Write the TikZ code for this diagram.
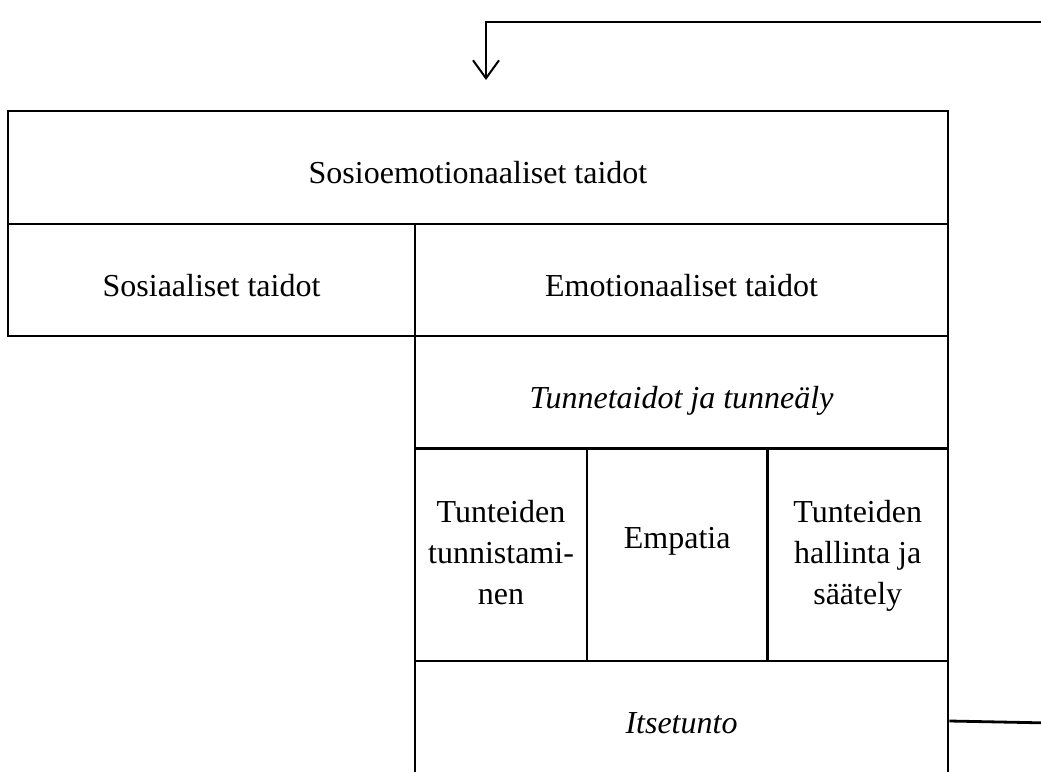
\documentclass[tikz,border=0pt]{standalone}
\usepackage{fontspec}
\setmainfont{Liberation Serif}
\usetikzlibrary{arrows.meta}
\begin{document}
\begin{tikzpicture}[x=1pt, y=-1pt, line width=2.8pt, cell node/.style={draw,rectangle,inner sep=0pt}, text node/.style={anchor=base,inner sep=0pt,align=center,font=\fontsize{32}{41}\selectfont}]
\useasboundingbox (0,0) rectangle (1041,771);
\clip (0,0) rectangle (1041,771);
\begin{scope}[every node/.style={cell node}]
\node[minimum width=940pt,minimum height=113pt] (v1) at (478,167.5) {};
\node[minimum width=407pt,minimum height=112pt] (v2) at (211.5,280) {};
\node[minimum width=533pt,minimum height=112pt] (v3) at (681.5,280) {};
\node[minimum width=533pt,minimum height=112.5pt] (v4) at (681.5,392.25) {};
\node[minimum width=172pt,minimum height=212.5pt] (v5) at (501,554.75) {};
\node[minimum width=180.5pt,minimum height=212.5pt] (v6) at (677.25,554.75) {};
\node[minimum width=180.5pt,minimum height=212.5pt] (v7) at (857.75,554.75) {};
\node[minimum width=533pt,minimum height=120pt] (v8) at (681.5,721) {};
\end{scope}
\begin{scope}[every node/.style={text node}]
\node (t1) at (478,183) {Sosioemotionaaliset taidot};
\node (t2) at (211.5,296) {Sosiaaliset taidot};
\node (t3) at (681.5,296) {Emotionaaliset taidot};
\node (t4) at (681.5,408) {\itshape Tunnetaidot ja tunneäly};
\node (t5) at (501,604) {Tunteiden\\tunnistami-\\nen};
\node (t6) at (677.25,548) {Empatia};
\node (t7) at (857.75,604) {Tunteiden\\hallinta ja\\säätely};
\node (t8) at (681.5,733) {\itshape Itsetunto};
\end{scope}
\coordinate (c1) at (1050,22);
\coordinate (c2) at (486,22);
\coordinate (c3) at (486,80);
\coordinate (c4) at (1050,723);
\draw[line width=2pt, -{Straight Barb[length=18pt,width=26pt]}] (c1) -- (c2) -- (c3);
\draw (v8.east) -- (c4);
\end{tikzpicture}
\end{document}
